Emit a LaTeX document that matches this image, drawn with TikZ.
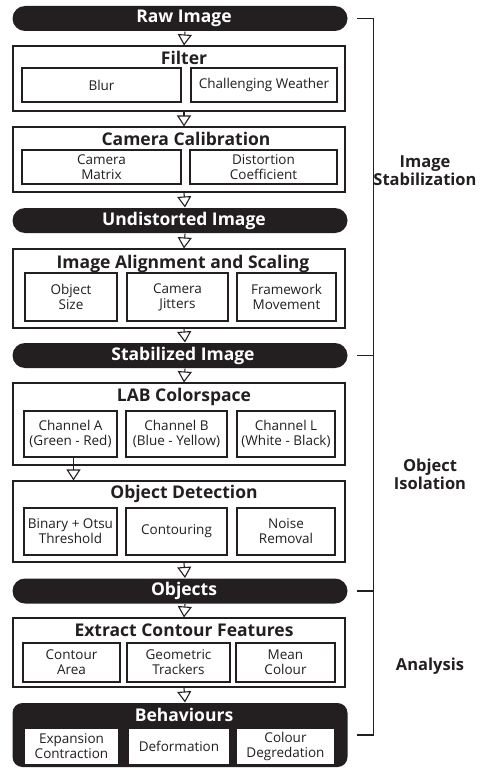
\documentclass[tikz,border=0pt]{standalone}
\usepackage{fontspec}
\setmainfont{Open Sans}
\usepackage{tikz}
\usetikzlibrary{arrows.meta}
\definecolor{ink}{HTML}{231F20}

\begin{document}
\begin{tikzpicture}[x=1pt, y=-1pt, inner sep=2pt, line width=1.1pt, color=ink]
            \useasboundingbox (0,0) rectangle (480,768);

            \tikzstyle{pill}=[rounded corners=12.5pt, fill=ink, text=white, minimum width=335pt, minimum height=25pt, font=\fontsize{17.5}{20}\selectfont\bfseries];
            \tikzstyle{group}=[draw, minimum width=332pt];
            \tikzstyle{head}=[font=\fontsize{17.5}{20}\selectfont\bfseries];
            \tikzstyle{item}=[draw, fill=white, align=center, font=\fontsize{13.5}{15}\selectfont];
            \tikzstyle{flow}=[-{Triangle[open, width=14pt, length=11pt]}];
            \tikzstyle{side}=[align=center, font=\fontsize{16.5}{18}\selectfont\bfseries];

            % image stabilization
            \node[pill] (raw) at (180,18.5) {\hspace*{8pt}Raw Image};

            \node[group, minimum height=65pt] (filter) at (179,78.5) {};
            \node[head] (filterT) at (184,58) {Filter};
            \node[item, minimum width=159pt, minimum height=34pt] (blur) at (101.5,85) {Blur};
            \node[item, minimum width=146pt, minimum height=34pt] (weather) at (264,85) {Challenging Weather};

            \node[group, minimum height=65pt] (calib) at (179,159.5) {};
            \node[head] (calibT) at (186,139) {Camera Calibration};
            \node[item, minimum width=159pt, minimum height=34pt] (matrix) at (101.5,167) {Camera\\Matrix};
            \node[item, minimum width=147pt, minimum height=34pt] (coeff) at (263.5,167) {Distortion\\Coefficient};

            \node[pill] (undist) at (180,220.5) {\hspace*{8pt}Undistorted Image};

            \node[group, minimum height=79pt] (align) at (179,288.5) {};
            \node[head] (alignT) at (183,264) {Image Alignment and Scaling};
            \node[item, minimum width=92pt, minimum height=48pt] (size) at (71,297) {Object\\Size};
            \node[item, minimum width=101pt, minimum height=48pt] (jitter) at (177.5,297) {Camera\\Jitters};
            \node[item, minimum width=99pt, minimum height=48pt] (frame) at (286.5,297) {Framework\\Movement};

            \node[pill] (stab) at (180,355.5) {\hspace*{6pt}Stabilized Image};

            % object isolation
            \node[group, minimum height=82pt] (lab) at (179,424) {};
            \node[head] (labT) at (184,397) {LAB Colorspace};
            \node[item, minimum width=93pt, minimum height=46pt] (chanA) at (70.5,434) {Channel A\\(Green - Red)};
            \node[item, minimum width=101pt, minimum height=46pt] (chanB) at (176.5,434) {Channel B\\(Blue - Yellow)};
            \node[item, minimum width=98pt, minimum height=46pt] (chanL) at (286,434) {Channel L\\(White - Black)};

            \node[group, minimum height=81pt] (detect) at (179,521.5) {};
            \node[head] (detectT) at (184,494) {Object Detection};
            \node[item, minimum width=93pt, minimum height=47pt] (otsu) at (70.5,531.5) {Binary + Otsu\\Threshold};
            \node[item, minimum width=101pt, minimum height=47pt] (contour) at (176.5,531.5) {Contouring};
            \node[item, minimum width=98pt, minimum height=47pt] (noise) at (286,531.5) {Noise\\Removal};

            \node[pill] (objects) at (180,591) {\hspace*{8pt}Objects};

            % analysis
            \node[group, minimum height=69pt] (extract) at (179,652.5) {};
            \node[head] (extractT) at (184,630) {Extract Contour Features};
            \node[item, minimum width=97pt, minimum height=39pt] (area) at (71.5,662.5) {Contour\\Area};
            \node[item, minimum width=103pt, minimum height=39pt] (tracker) at (178.5,662.5) {Geometric\\Trackers};
            \node[item, minimum width=99pt, minimum height=39pt] (mean) at (285.5,662.5) {Mean\\Colour};

            \node[pill, rounded corners=10pt, minimum height=64pt] (behav) at (180,735) {};
            \node[head, text=white] (behavT) at (184,715) {Behaviours};
            \node[item, minimum width=95pt, minimum height=37pt] (expand) at (71.5,746.5) {Expansion\\Contraction};
            \node[item, minimum width=102pt, minimum height=37pt] (deform) at (179,746.5) {Deformation};
            \node[item, minimum width=99pt, minimum height=37pt] (degrade) at (285.5,746.5) {Colour\\Degredation};

            % flow arrows
            \draw[flow] ([xshift=5pt]raw.south) -- ([xshift=5pt]filter.north);
            \draw[flow] ([xshift=5pt]filter.south) -- ([xshift=5pt]calib.north);
            \draw[flow] ([xshift=5pt]calib.south) -- ([xshift=5pt]undist.north);
            \draw[flow] ([xshift=5pt]undist.south) -- ([xshift=5pt]align.north);
            \draw[flow] ([xshift=5pt]align.south) -- ([xshift=5pt]stab.north);
            \draw[flow] ([xshift=5pt]stab.south) -- ([xshift=5pt]lab.north);
            \draw[flow] ([xshift=3pt]chanA.south) -- ([xshift=3pt]chanA.south |- detect.north);
            \draw[flow] ([xshift=5pt]detect.south) -- ([xshift=5pt]objects.north);
            \draw[flow] ([xshift=5pt]objects.south) -- ([xshift=5pt]extract.north);
            \draw[flow] ([xshift=5pt]extract.south) -- ([xshift=5pt]behav.north);

            % stage bracket
            \draw ([xshift=9pt]raw.east) -- ++(16,0) |- ([xshift=9pt]behav.east);
            \draw ([xshift=9pt]stab.east) -- ++(16,0);
            \draw ([xshift=9pt]objects.east) -- ++(16,0);

            \node[side] (stageA) at (425,171) {Image\\Stabilization};
            \node[side] (stageB) at (430,474) {Object\\Isolation};
            \node[side] (stageC) at (430,666) {Analysis};
         \end{tikzpicture}
\end{document}
